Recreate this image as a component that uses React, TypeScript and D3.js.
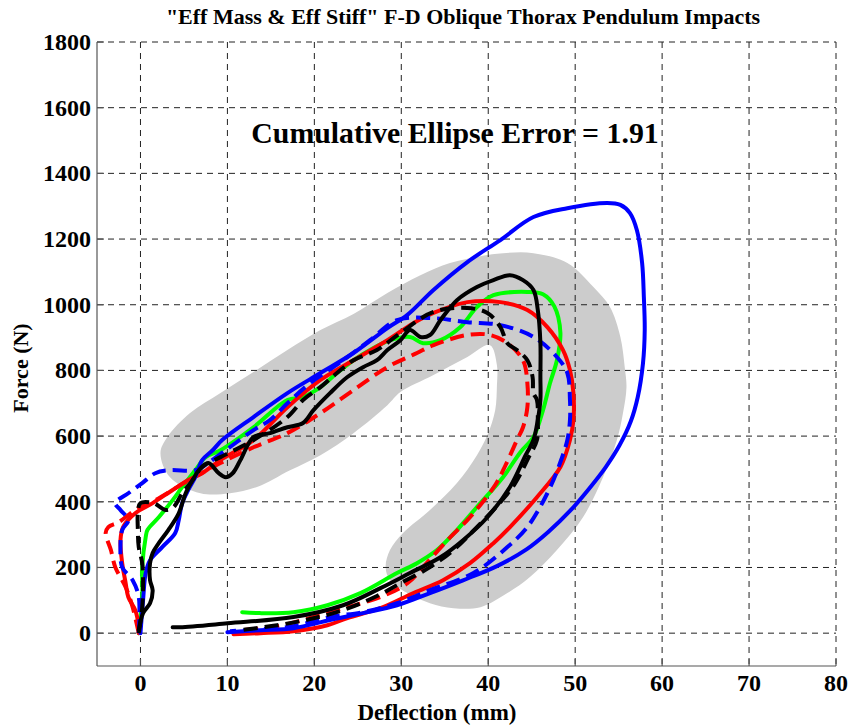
import React from "react";
import * as d3 from "d3";

type P = [number, number];

const titleText = '"Eff Mass & Eff Stiff" F-D Oblique Thorax Pendulum Impacts';
const annotationText = "Cumulative Ellipse Error = 1.91";
const xLabel = "Deflection (mm)";
const yLabel = "Force (N)";

const xTicks = [0, 10, 20, 30, 40, 50, 60, 70, 80];
const yTicks = [0, 200, 400, 600, 800, 1000, 1200, 1400, 1600, 1800];

// grey corridor (closed outline, deflection mm / force N)
const corridor: P[] = [
  [2.3, 548], [3.1, 597], [5.7, 670], [9.2, 731], [13.0, 795], [16.9, 862], [20.7, 923],
  [24.5, 972], [28.4, 1036], [32.2, 1090], [35.6, 1127], [39.1, 1148], [41.7, 1157],
  [45.2, 1157], [49.1, 1127], [52.1, 1054], [54.0, 993], [55.2, 902], [55.7, 810],
  [55.9, 749], [55.5, 670], [54.8, 588], [53.2, 475], [50.9, 353], [47.9, 253],
  [44.8, 171], [42.2, 122], [39.1, 79], [36.0, 76], [33.3, 91], [30.7, 122], [28.7, 161],
  [28.2, 201], [28.7, 253], [30.2, 305], [33.3, 375], [36.4, 457], [38.7, 542],
  [39.9, 603], [40.8, 679], [41.0, 755], [41.0, 816], [40.2, 877], [37.6, 841],
  [33.7, 786], [29.9, 734], [28.4, 694], [24.5, 609], [20.7, 542], [17.2, 496],
  [13.4, 445], [10.3, 426], [6.9, 426], [3.4, 475],
];

const blueSolid: P[] = [
  [0, 0], [0.3, 101], [0.6, 183], [1.1, 222], [2.5, 262], [4.0, 305], [4.4, 344], [4.8, 396],
  [5.5, 436], [6.3, 475], [7.1, 527], [8.3, 557], [9.4, 588], [13.0, 658], [16.9, 731],
  [20.7, 792], [24.5, 853], [28.4, 929], [30.7, 969], [33.7, 1045], [37.6, 1130],
  [41.4, 1197], [45.2, 1267], [49.1, 1294], [53.7, 1310], [55.2, 1304], [56.3, 1279],
  [57.1, 1227], [57.7, 1127], [57.9, 1023], [58.0, 923], [57.8, 822], [57.2, 719],
  [56.4, 645], [55.1, 572], [53.5, 505], [51.6, 440], [49.4, 372], [46.9, 308], [44.4, 255],
  [41.0, 204], [37.1, 161], [33.3, 122], [29.5, 85], [25.6, 61], [21.8, 40], [17.6, 15],
  [13.8, 9], [10.0, 3],
];

const blueDashed: P[] = [
  [-0.2, 0], [-0.2, 110], [-0.9, 161], [-2.1, 201], [-2.3, 262], [-2.1, 314], [-1.4, 344],
  [-2.3, 375], [-2.9, 396], [-1.4, 426], [0.2, 457], [1.7, 487], [3.2, 496], [6.3, 496],
  [7.1, 506], [9.8, 557], [13.0, 618], [14.9, 649], [16.9, 700], [19.5, 761], [23.0, 825],
  [26.4, 892], [29.5, 953], [33.7, 959], [37.6, 947], [41.4, 938], [45.2, 902], [47.9, 841],
  [49.1, 792], [49.4, 710], [49.4, 649], [49.1, 588], [48.3, 521], [46.8, 426], [44.5, 323],
  [42.2, 262], [38.3, 183], [33.3, 131], [29.5, 91], [25.6, 64], [21.8, 49], [17.6, 21],
  [13.8, 12], [10.3, 6],
];

const redSolid: P[] = [
  [-0.2, 0], [-0.2, 18], [-0.6, 70], [-1.4, 110], [-1.7, 152], [-2.1, 213], [-2.3, 283],
  [-2.0, 323], [-0.6, 365], [1.4, 396], [3.7, 436], [5.5, 466], [7.1, 487], [9.2, 527],
  [13.0, 588], [16.9, 688], [20.7, 771], [24.5, 831], [28.4, 892], [31.4, 944], [33.7, 975],
  [37.6, 1008], [41.4, 1008], [44.5, 984], [46.8, 932], [48.6, 862], [49.4, 801], [49.8, 731],
  [49.8, 649], [49.4, 588], [48.3, 506], [45.6, 414], [42.5, 323], [40.6, 274], [37.9, 213],
  [34.8, 161], [31.4, 122], [27.6, 76], [23.8, 46], [21.5, 24], [17.6, 6], [13.8, 0], [10.7, -3],
];

const redDashed: P[] = [
  [-0.2, 0], [-0.9, 79], [-1.7, 140], [-2.9, 201], [-3.4, 253], [-4.0, 305], [-3.7, 323],
  [-2.5, 338], [-0.6, 375], [1.7, 405], [5.2, 460], [9.2, 518], [13.0, 566], [16.9, 609],
  [20.7, 670], [24.5, 740], [28.4, 810], [31.8, 853], [33.7, 877], [37.6, 908], [40.2, 908],
  [42.2, 883], [44.0, 831], [44.5, 761], [44.5, 688], [44.0, 627], [43.3, 588], [42.0, 512],
  [40.8, 451], [37.9, 353], [35.3, 283], [32.5, 201], [30.7, 152], [27.6, 110], [23.8, 79],
  [19.5, 46], [15.7, 21], [11.5, 9],
];

const greenSolid: P[] = [
  [-0.2, 0], [0.2, 110], [0.2, 201], [0.6, 292], [0.8, 314], [2.1, 353], [3.7, 405], [4.8, 445],
  [6.3, 496], [7.5, 536], [9.2, 557], [13.0, 627], [16.9, 710], [18.7, 719], [20.7, 749],
  [22.6, 792], [24.5, 831], [26.4, 862], [28.7, 892], [31.0, 902], [32.5, 883], [34.5, 892],
  [36.8, 932], [38.7, 993], [40.6, 1029], [44.5, 1039], [46.3, 1032], [47.6, 995],
  [48.3, 915], [47.9, 831], [47.1, 761], [46.3, 679], [45.2, 597], [43.7, 551],
  [41.7, 475], [38.7, 384], [36.4, 314], [34.1, 253], [31.8, 213], [29.5, 183], [25.3, 122],
  [21.5, 85], [17.6, 64], [13.8, 61], [11.7, 64],
];

const blackSolid: P[] = [
  [-0.2, 9], [0.3, 61], [1.1, 91], [1.4, 131], [1.1, 161], [1.1, 213], [1.4, 244], [2.1, 274],
  [3.2, 314], [4.4, 365], [5.2, 426], [6.0, 466], [6.7, 496], [7.8, 518], [9.0, 487],
  [9.8, 475], [10.6, 487], [11.5, 527], [13.0, 597], [14.9, 609], [16.9, 627], [18.7, 640],
  [19.9, 679], [21.8, 731], [23.8, 780], [25.6, 810], [27.2, 831], [28.4, 862], [29.9, 892],
  [31.0, 923], [32.2, 902], [33.3, 908], [34.5, 953], [36.4, 1014], [38.7, 1054],
  [40.6, 1075], [42.5, 1090], [44.0, 1075], [45.2, 1045], [45.7, 984], [46.0, 883],
  [46.0, 780], [46.0, 710], [45.7, 649], [45.2, 588], [44.3, 542], [42.5, 445], [39.9, 353],
  [37.1, 283], [34.5, 231], [31.0, 183], [27.6, 137], [23.3, 85], [17.6, 49], [10.0, 30],
  [4.6, 18], [3.7, 18],
];

const blackDashed: P[] = [
  [-0.2, 0], [0.2, 79], [0.3, 161], [0.2, 213], [-0.2, 262], [-0.3, 314], [-0.3, 365], [0, 396],
  [1.5, 396], [2.9, 375], [3.8, 384], [4.8, 426], [6.0, 466], [7.1, 506], [9.2, 536],
  [13.0, 588], [16.9, 658], [18.7, 710], [20.7, 749], [22.6, 792], [24.5, 831], [27.2, 862],
  [29.9, 914], [33.7, 978], [37.6, 990], [39.9, 975], [41.4, 932], [42.2, 883], [43.3, 862],
  [44.5, 831], [45.1, 780], [45.2, 731], [45.6, 710], [45.7, 649], [45.6, 588], [44.6, 533],
  [43.1, 457], [41.4, 399], [38.7, 323], [36.0, 253], [33.3, 201], [29.9, 152], [27.2, 113],
  [23.3, 70], [19.5, 43], [15.7, 24], [11.5, 9],
];

const series: { data: P[]; color: string; dashed: boolean }[] = [
  { data: greenSolid, color: "#00ff00", dashed: false },
  { data: redSolid, color: "#ff0000", dashed: false },
  { data: redDashed, color: "#ff0000", dashed: true },
  { data: blueSolid, color: "#0000ff", dashed: false },
  { data: blueDashed, color: "#0000ff", dashed: true },
  { data: blackSolid, color: "#000000", dashed: false },
  { data: blackDashed, color: "#000000", dashed: true },
];

const W = 851;
const H = 727;
const M = { left: 97, right: 836, top: 42, bottom: 666 };
const FONT = "'Liberation Serif', 'Times New Roman', serif";

export default function App() {
  const x = d3.scaleLinear().domain([-5, 80]).range([M.left, M.right]);
  const y = d3.scaleLinear().domain([-100, 1800]).range([M.bottom, M.top]);

  const line = d3
    .line<P>()
    .x((d) => x(d[0]))
    .y((d) => y(d[1]))
    .curve(d3.curveCatmullRom.alpha(0.5));

  const band = d3
    .line<P>()
    .x((d) => x(d[0]))
    .y((d) => y(d[1]))
    .curve(d3.curveCatmullRomClosed.alpha(0.5));

  return (
    <svg
      width={W}
      height={H}
      style={{ position: "absolute", left: 0, top: 0, display: "block", background: "#fff" }}
    >
      <rect x={0} y={0} width={W} height={H} fill="#fff" />
      <path d={band(corridor) || ""} fill="#cccccc" stroke="none" />

      {/* grid */}
      <g stroke="#222" strokeWidth={1} strokeDasharray="6,5" fill="none">
        {xTicks.map((t) => (
          <line key={"gx" + t} x1={x(t)} x2={x(t)} y1={M.top} y2={M.bottom} />
        ))}
        {yTicks.map((t) => (
          <line key={"gy" + t} x1={M.left} x2={M.right} y1={y(t)} y2={y(t)} />
        ))}
      </g>

      {/* curves */}
      {series.map((s, i) => (
        <path
          key={i}
          d={line(s.data) || ""}
          fill="none"
          stroke={s.color}
          strokeWidth={4}
          strokeLinejoin="round"
          strokeLinecap={s.dashed ? "butt" : "round"}
          strokeDasharray={s.dashed ? "14,7" : undefined}
        />
      ))}

      {/* axes */}
      <g stroke="#555" strokeWidth={1.2}>
        <line x1={M.left} x2={M.left} y1={M.top} y2={M.bottom} />
        <line x1={M.left} x2={M.right} y1={M.bottom} y2={M.bottom} />
        {xTicks.map((t) => (
          <line key={"tx" + t} x1={x(t)} x2={x(t)} y1={M.bottom} y2={M.bottom - 7} />
        ))}
        {yTicks.map((t) => (
          <line key={"ty" + t} x1={M.left} x2={M.left + 7} y1={y(t)} y2={y(t)} />
        ))}
      </g>

      {/* tick labels */}
      <g fontFamily={FONT} fontWeight="bold" fontSize={24} fill="#000">
        {xTicks.map((t) => (
          <text key={"lx" + t} x={x(t)} y={691} textAnchor="middle">
            {t}
          </text>
        ))}
        {yTicks.map((t) => (
          <text key={"ly" + t} x={91} y={y(t) + 8} textAnchor="end">
            {t}
          </text>
        ))}
      </g>

      <text x={437} y={720} textAnchor="middle" fontFamily={FONT} fontWeight="bold" fontSize={23}>
        {xLabel}
      </text>
      <text
        transform={`translate(28, 368) rotate(-90)`}
        textAnchor="middle"
        fontFamily={FONT}
        fontWeight="bold"
        fontSize={22}
      >
        {yLabel}
      </text>
      <text x={463} y={24} textAnchor="middle" fontFamily={FONT} fontWeight="bold" fontSize={22}>
        {titleText}
      </text>
      <text x={455} y={143} textAnchor="middle" fontFamily={FONT} fontWeight="bold" fontSize={29.8}>
        {annotationText}
      </text>
    </svg>
  );
}
